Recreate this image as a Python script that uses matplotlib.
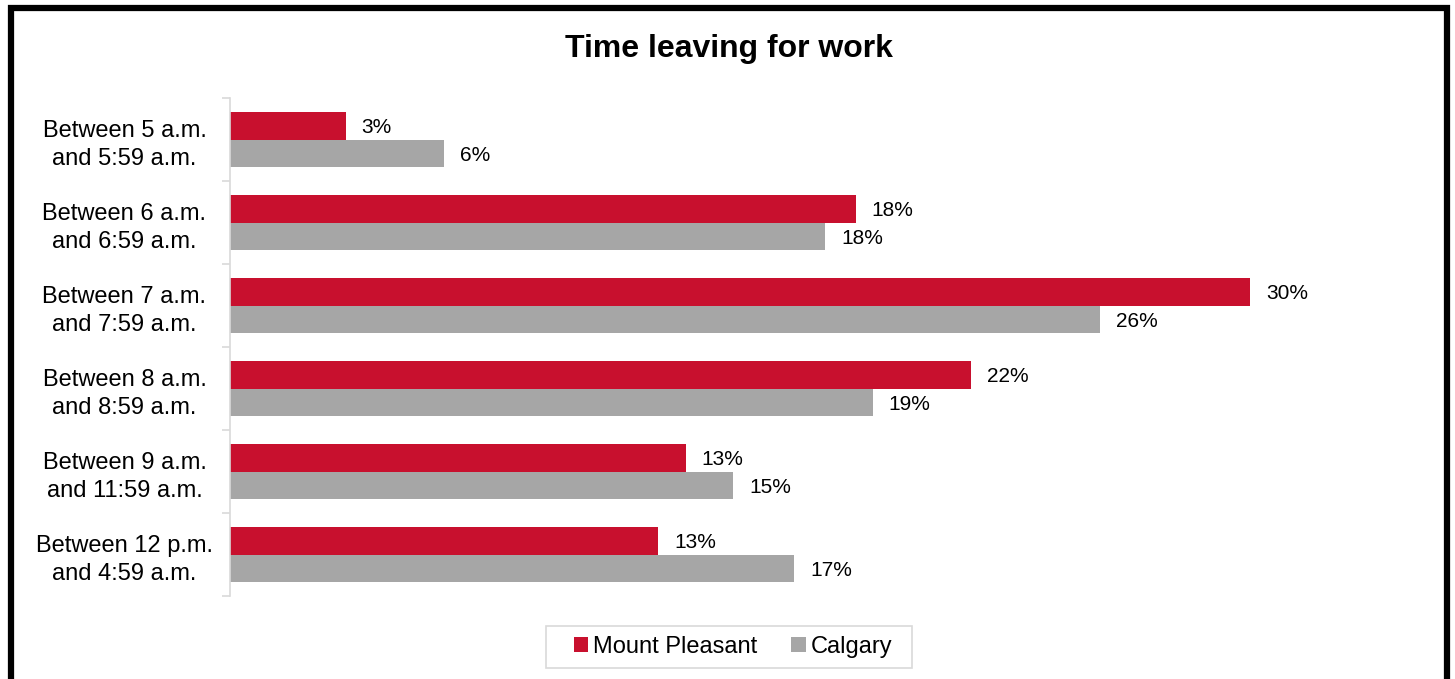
import matplotlib.pyplot as plt
import numpy as np
from matplotlib.patches import Rectangle

plt.rcParams['font.family'] = ['Liberation Sans', 'DejaVu Sans']

# Categories, top to bottom
categories = ['Between 5 a.m.\nand 5:59 a.m.',
              'Between 6 a.m.\nand 6:59 a.m.',
              'Between 7 a.m.\nand 7:59 a.m.',
              'Between 8 a.m.\nand 8:59 a.m.',
              'Between 9 a.m.\nand 11:59 a.m.',
              'Between 12 p.m.\nand 4:59 a.m.']
mount_pleasant = [3.4, 18.4, 30.0, 21.8, 13.4, 12.6]
calgary = [6.3, 17.5, 25.6, 18.9, 14.8, 16.6]

red = '#C8102E'
grey = '#A6A6A6'

W, H = 1455, 679
fig = plt.figure(figsize=(W / 100, H / 100), dpi=100)
ax = fig.add_axes([230 / W, 1 - 596 / H, 1190 / W, 498 / H])

y = np.arange(len(categories))
h = 0.33
b1 = ax.barh(y - h / 2, mount_pleasant, height=h, color=red, label='Mount Pleasant')
b2 = ax.barh(y + h / 2, calgary, height=h, color=grey, label='Calgary')

for bars, vals in ((b1, mount_pleasant), (b2, calgary)):
    for bar, v in zip(bars, vals):
        ax.annotate(f'{v:.0f}%', (v, bar.get_y() + bar.get_height() / 2),
                    xytext=(16, -2), textcoords='offset pixels',
                    ha='left', va='center', fontsize=15)

ax.set_xlim(0, 35)
ax.set_ylim(len(categories) - 0.5, -0.5)
ax.set_yticks(y)
ax.set_yticklabels(categories, fontsize=17, ha='center', linespacing=1.38)
ax.set_yticks(np.arange(-0.5, len(categories)), minor=True)
ax.tick_params(axis='y', which='major', length=0, pad=76)
ax.tick_params(axis='y', which='minor', length=6, color='#d9d9d9', width=1.2)
ax.set_xticks([])
for s in ('top', 'right', 'bottom'):
    ax.spines[s].set_visible(False)
ax.spines['left'].set_color('#d9d9d9')
ax.spines['left'].set_linewidth(1.2)

fig.text(729 / W, 1 - 49 / H, 'Time leaving for work', ha='center', va='center',
         fontsize=23, fontweight='bold')

fig.legend(loc='center', bbox_to_anchor=(733 / W, 1 - 647 / H), ncol=2,
           fontsize=17, frameon=False,
           handlelength=0.6, handleheight=0.6, handletextpad=0.2,
           columnspacing=1.45, borderpad=0.45, borderaxespad=0)
# legend box, wider than the entries
fig.patches.append(Rectangle((546 / W, 1 - 668 / H), 366 / W, 42 / H,
                             transform=fig.transFigure, fill=False,
                             edgecolor='#d9d9d9', linewidth=1.2))

# black frame around the chart area
fig.patches.append(Rectangle((10.5 / W, -0.05), 1436 / W, 1.05 - 8 / H,
                             transform=fig.transFigure, fill=False,
                             edgecolor='black', linewidth=4.5))

fig.savefig('out.png', dpi=100)
